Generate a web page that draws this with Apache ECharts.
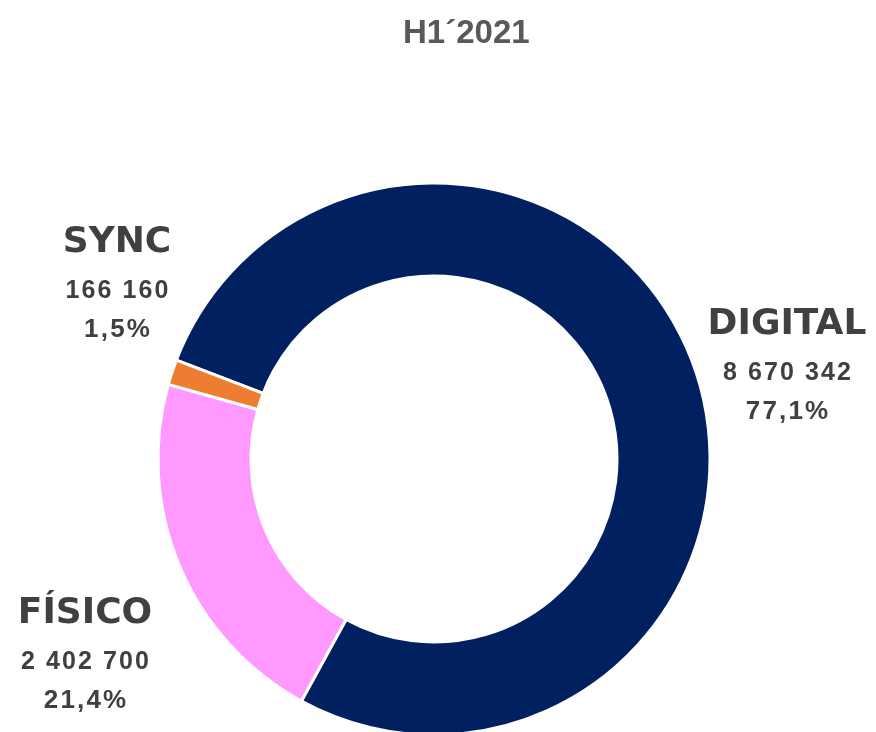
<!doctype html>
<html lang="es">
<head>
    <meta charset="UTF-8">
    <title>H1 2021</title>
    <script src="https://cdn.jsdelivr.net/npm/echarts@6/dist/echarts.min.js"></script>
    <style>
        html, body { margin: 0; padding: 0; background: #fff; }
    </style>
</head>
<body>
    <div id="main" style="width: 876px;height:732px;"></div>
    <script>
        var titleText = 'H1\u00b42021';
        var categories = ['DIGITAL', 'FÍSICO', 'SYNC'];
        var values = [8670342, 2402700, 166160];
        var colors = ['#002060', '#FF99FF', '#ED7D31'];

        // label boxes (x = centre, y = top)
        var labelPos = [[787, 300], [85, 589], [117, 218]];

        var total = values.reduce(function (a, b) { return a + b; }, 0);

        function fmtNum(v) {
            return String(v).replace(/\B(?=(\d{3})+(?!\d))/g, ' ').split('').join('\u200a');
        }
        function fmtPct(v) {
            return (v / total * 100).toFixed(1).replace('.', ',').split('').join('\u200a') + '\u200a%';
        }

        var pieData = categories.map(function (c, i) {
            return { name: c, value: values[i], itemStyle: { color: colors[i] } };
        });

        var myChart = echarts.init(document.getElementById('main'));
        myChart.setOption({
            backgroundColor: '#fff',
            animation: false,
            title: {
                text: titleText,
                left: 398,
                top: 12,
                textStyle: {
                    color: '#595959',
                    fontFamily: 'Liberation Sans',
                    fontWeight: 'bold',
                    fontSize: 33
                }
            },
            series: [{
                type: 'pie',
                center: [434, 459],
                radius: [183, 276],
                startAngle: 159,
                clockwise: true,
                itemStyle: {
                    borderColor: '#fff',
                    borderWidth: 3
                },
                labelLine: { show: false },
                label: {
                    show: true,
                    position: 'outside',
                    alignTo: 'none',
                    overflow: 'none',
                    width: 300,
                    color: '#404040',
                    fontFamily: 'DejaVu Sans',
                    fontWeight: 'bold',
                    formatter: function (p) {
                        return '{n|' + p.name + '}\n{v|' + fmtNum(p.value) + '}\n{p|' + fmtPct(p.value) + '}';
                    },
                    rich: {
                        n: { fontSize: 36, fontWeight: 'bold', lineHeight: 50, color: '#404040', fontFamily: 'DejaVu Sans' },
                        v: { fontSize: 25, fontWeight: 'bold', lineHeight: 46, color: '#404040', fontFamily: 'Liberation Sans' },
                        p: { fontSize: 26, fontWeight: 'bold', lineHeight: 32, color: '#404040', fontFamily: 'Liberation Sans' }
                    }
                },
                labelLayout: function (params) {
                    var pos = labelPos[params.dataIndex];
                    return { x: pos[0], y: pos[1], align: 'center', verticalAlign: 'top' };
                },
                data: pieData
            }]
        });
    </script>
</body>
</html>
